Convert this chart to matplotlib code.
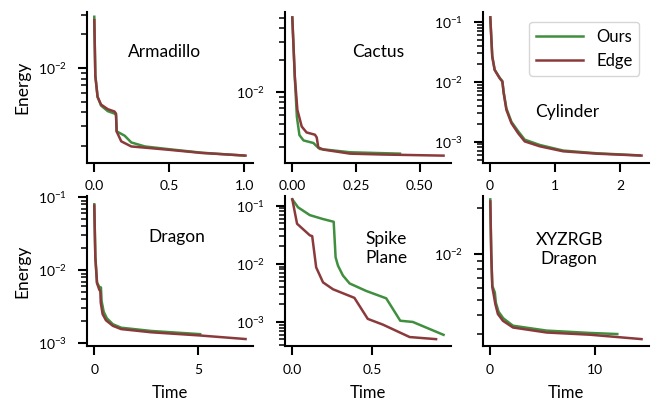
import numpy as np
import matplotlib
matplotlib.use("Agg")
import matplotlib.pyplot as plt
from matplotlib.ticker import NullFormatter

## fonts / style
plt.rcParams['font.family'] = ['Lato', 'DejaVu Sans']
plt.rcParams['mathtext.fontset'] = 'custom'
plt.rcParams['mathtext.rm'] = 'Lato'
plt.rcParams['mathtext.it'] = 'Lato:italic'
plt.rcParams['mathtext.bf'] = 'Lato:bold'
plt.rcParams['axes.linewidth'] = 1.5
plt.rcParams['xtick.major.width'] = 1.5
plt.rcParams['ytick.major.width'] = 1.5
plt.rcParams['ytick.minor.width'] = 1.1
plt.rcParams['xtick.major.size'] = 6.5
plt.rcParams['ytick.major.size'] = 6.5
plt.rcParams['ytick.minor.size'] = 4.5
plt.rcParams['xtick.major.pad'] = 6
plt.rcParams['ytick.major.pad'] = 8
plt.rcParams['xtick.labelsize'] = 10
plt.rcParams['ytick.labelsize'] = 10

c_ours = '#3f8f3f'
c_edge = '#8b3a3c'

## Armadillo
arm_t_ours = [0.0, 0.007, 0.022, 0.045, 0.09, 0.135, 0.145, 0.15, 0.203, 0.247, 0.338, 0.5, 0.72, 1.0]
arm_e_ours = [0.0287, 0.0086, 0.0055, 0.0046, 0.0041, 0.0039, 0.0038, 0.0027, 0.00247, 0.00215, 0.00198, 0.00187, 0.00174, 0.00164]
arm_t_edge = [0.0, 0.007, 0.022, 0.045, 0.09, 0.135, 0.145, 0.149, 0.18, 0.247, 0.495, 0.72, 1.01]
arm_e_edge = [0.0268, 0.0084, 0.0055, 0.0047, 0.00427, 0.00407, 0.0039, 0.0027, 0.0022, 0.00198, 0.00185, 0.00173, 0.00164]

## Cactus
cac_t_ours = [0.0, 0.01, 0.018, 0.028, 0.044, 0.083, 0.096, 0.108, 0.227, 0.423]
cac_e_ours = [0.0507, 0.0135, 0.0058, 0.0039, 0.00347, 0.00328, 0.00305, 0.00288, 0.00268, 0.0026]
cac_t_edge = [0.0, 0.01, 0.02, 0.037, 0.056, 0.089, 0.096, 0.102, 0.122, 0.227, 0.358, 0.594]
cac_e_edge = [0.0507, 0.0139, 0.00676, 0.0047, 0.00413, 0.00393, 0.0037, 0.00298, 0.00284, 0.0026, 0.00255, 0.00249]

## Cylinder
cyl_t_ours = [0.01, 0.04, 0.077, 0.154, 0.195, 0.215, 0.257, 0.334, 0.436, 0.538, 0.77, 1.128, 1.64, 2.3]
cyl_e_ours = [0.12, 0.027, 0.016, 0.0117, 0.0103, 0.0068, 0.0036, 0.00215, 0.0015, 0.00108, 0.00088, 0.00071, 0.00064, 0.00059]
cyl_t_edge = [0.01, 0.04, 0.077, 0.154, 0.195, 0.215, 0.257, 0.334, 0.436, 0.538, 0.77, 1.128, 1.64, 2.33]
cyl_e_edge = [0.12, 0.0264, 0.0158, 0.0115, 0.0101, 0.0065, 0.0034, 0.00204, 0.00139, 0.00101, 0.000836, 0.00069, 0.00063, 0.000585]

## Dragon
dra_t_ours = [0.0, 0.05, 0.13, 0.24, 0.32, 0.35, 0.45, 0.6, 0.89, 1.29, 2.74, 5.08]
dra_e_ours = [0.08, 0.0155, 0.0068, 0.0059, 0.0058, 0.0038, 0.0027, 0.0022, 0.00182, 0.00163, 0.00147, 0.00133]
dra_t_edge = [0.0, 0.05, 0.13, 0.24, 0.29, 0.31, 0.4, 0.56, 0.89, 1.29, 2.74, 5.0, 7.26]
dra_e_edge = [0.077, 0.015, 0.00665, 0.0054, 0.00515, 0.0036, 0.0025, 0.00206, 0.00173, 0.00156, 0.00141, 0.00128, 0.00114]

## Spike Plane
spk_t_ours = [0.0, 0.036, 0.11, 0.193, 0.26, 0.272, 0.287, 0.318, 0.36, 0.464, 0.59, 0.678, 0.757, 0.95]
spk_e_ours = [0.129, 0.094, 0.069, 0.059, 0.053, 0.013, 0.0093, 0.0063, 0.0046, 0.00342, 0.00255, 0.00105, 0.001, 0.0006]
spk_t_edge = [0.0, 0.03, 0.11, 0.125, 0.15, 0.193, 0.256, 0.39, 0.474, 0.569, 0.737, 0.903]
spk_e_edge = [0.129, 0.049, 0.031, 0.030, 0.0087, 0.0048, 0.00365, 0.0026, 0.00113, 0.0009, 0.00055, 0.000506]

## XYZRGB Dragon
xyz_t_ours = [0.07, 0.16, 0.26, 0.5, 0.6, 0.85, 1.3, 2.22, 5.4, 9.5, 12.1]
xyz_e_ours = [0.0227, 0.0102, 0.0062, 0.0056, 0.0048, 0.0042, 0.0038, 0.0034, 0.00316, 0.00305, 0.003]
xyz_t_edge = [0.07, 0.16, 0.26, 0.38, 0.55, 0.79, 1.27, 2.22, 5.4, 9.5, 14.4]
xyz_e_edge = [0.022, 0.01, 0.00607, 0.00548, 0.0047, 0.00405, 0.00366, 0.00331, 0.00307, 0.00297, 0.00278]

panels = [
    ("Armadillo", arm_t_ours, arm_e_ours, arm_t_edge, arm_e_edge, (1.42e-3, 0.0316), (0.47, 0.735), [0, 0.5, 1.0], ["0.0", "0.5", "1.0"]),
    ("Cactus", cac_t_ours, cac_e_ours, cac_t_edge, cac_e_edge, (2.14e-3, 0.057), (0.56, 0.735), [0, 0.25, 0.5], ["0.00", "0.25", "0.50"]),
    ("Cylinder", cyl_t_ours, cyl_e_ours, cyl_t_edge, cyl_e_edge, (4.47e-4, 0.147), (0.506, 0.338), [0, 1, 2], ["0", "1", "2"]),
    ("Dragon", dra_t_ours, dra_e_ours, dra_t_edge, dra_e_edge, (9.1e-4, 0.105), (0.54, 0.724), [0, 5], ["0", "5"]),
    ("Spike\nPlane", spk_t_ours, spk_e_ours, spk_t_edge, spk_e_edge, (3.83e-4, 0.149), (0.61, 0.65), [0, 0.5], ["0.0", "0.5"]),
    ("XYZRGB\nDragon", xyz_t_ours, xyz_e_ours, xyz_t_edge, xyz_e_edge, (2.5e-3, 0.024), (0.52, 0.64), [0, 10], ["0", "10"]),
]

fig, axes = plt.subplots(2, 3, figsize=(6.57, 4.03), dpi=100)
plt.subplots_adjust(left=0.132, right=0.988, top=0.970, bottom=0.141, wspace=0.19, hspace=0.22)

for ax, (name, to, eo, te, ee, ylim, tpos, xt, xtl) in zip(axes.flat, panels):
    ax.plot(to, eo, color=c_ours, lw=1.8, label="Ours")
    ax.plot(te, ee, color=c_edge, lw=1.8, label="Edge")
    ax.set_yscale('log')
    ax.set_ylim(*ylim)
    ax.yaxis.set_minor_formatter(NullFormatter())
    ax.set_xticks(xt)
    ax.set_xticklabels(xtl)
    ax.spines['top'].set_visible(False)
    ax.spines['right'].set_visible(False)
    ax.text(tpos[0], tpos[1], name, transform=ax.transAxes, ha='center', va='center',
            fontsize=12.5, linespacing=1.25)

axes[0, 0].set_ylabel("Energy", fontsize=12.5, labelpad=5)
axes[1, 0].set_ylabel("Energy", fontsize=12.5, labelpad=5)
for ax in axes[1]:
    ax.set_xlabel("Time", fontsize=12, labelpad=7)

axes[0, 2].legend(loc='upper right', fontsize=12, handlelength=2.8, framealpha=0.8,
                  borderaxespad=0.6)

plt.savefig("out.png", dpi=100)
